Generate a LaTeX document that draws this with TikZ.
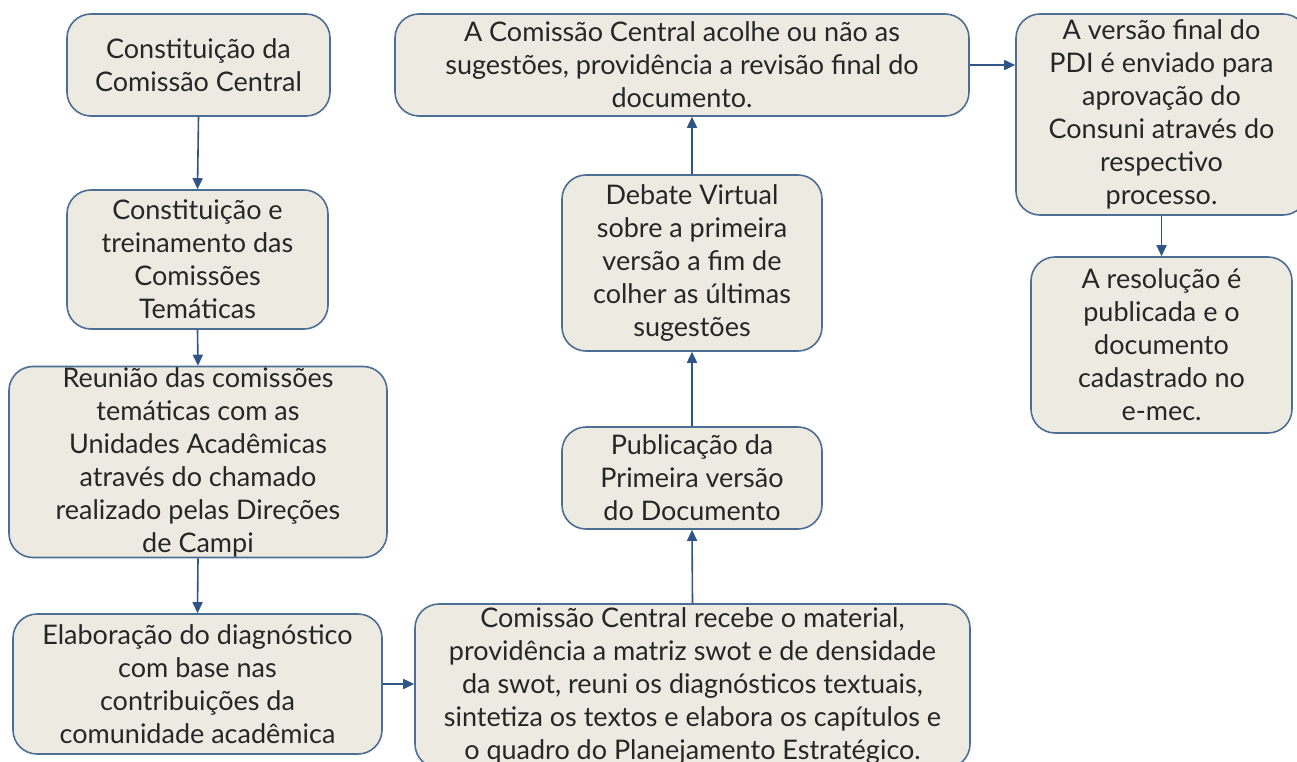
\documentclass[tikz,border=0pt]{standalone}
\usepackage{fontspec}
\setmainfont{Lato}
\usepackage{tikz}
\usetikzlibrary{arrows.meta}

\definecolor{boxfill}{HTML}{EDEBE1}
\definecolor{boxline}{HTML}{4C6E95}
\definecolor{seta}{HTML}{2F5486}

\tikzset{
  etapa/.style={draw=boxline, fill=boxfill, line width=1.6pt, rounded corners=24pt,
    align=center, inner sep=0pt, text=black!85,
    font=\fontsize{27}{33}\selectfont},
  seta/.style={draw=seta, line width=1.6pt, -{Triangle[length=11pt,width=10pt]}}
}

\begin{document}
\begin{tikzpicture}[x=1pt, y=-1pt]
				\useasboundingbox[fill=white] (0,0) rectangle (1297,762);
				%left column
				\node[etapa, minimum width=263pt, minimum height=102pt] (constCentral) at (198.5,65) {Constituição da\\Comissão Central};
				\node[etapa, minimum width=261pt, minimum height=139pt] (constTemat) at (197.5,259.5) {Constituição e\\treinamento das\\Comissões\\Temáticas};
				\node[etapa, minimum width=378pt, minimum height=191pt] (reuniao) at (198,462) {Reunião das comissões\\temáticas com as\\Unidades Acadêmicas\\através do chamado\\realizado pelas Direções\\de Campi};
				\node[etapa, minimum width=369pt, minimum height=140pt] (elab) at (197.5,684) {Elaboração do diagnóstico\\com base nas\\contribuições da\\comunidade acadêmica};
				%middle column
				\node[etapa, minimum width=555pt, minimum height=164pt] (recebe) at (692.5,686) {Comissão Central recebe o material,\\providência a matriz swot e de densidade\\da swot, reuni os diagnósticos textuais,\\sintetiza os textos e elabora os capítulos e\\o quadro do Planejamento Estratégico.};
				\node[etapa, minimum width=260pt, minimum height=102pt] (publica) at (692,478) {Publicação da\\Primeira versão\\do Documento};
				\node[etapa, minimum width=260pt, minimum height=176pt] (debate) at (692,263) {Debate Virtual\\sobre a primeira\\versão a fim de\\colher as últimas\\sugestões};
				\node[etapa, minimum width=574pt, minimum height=102pt] (acolhe) at (682,65) {A Comissão Central acolhe ou não as\\sugestões, providência a revisão final do\\documento.};
				%right column
				\node[etapa, minimum width=291pt, minimum height=201pt] (versaoFinal) at (1161.5,114.5) {A versão final do\\PDI é enviado para\\aprovação do\\Consuni através do\\respectivo\\processo.};
				\node[etapa, minimum width=261pt, minimum height=176pt] (resolucao) at (1161.5,345) {A resolução é\\publicada e o\\documento\\cadastrado no\\e-mec.};
				%connectors
				\draw[seta] (constCentral.south) -- (constTemat.north);
				\draw[seta] (constTemat.south) -- (reuniao.north);
				\draw[seta] (reuniao.south) -- (elab.north);
				\draw[seta] (elab.east) -- (elab.east -| recebe.west);
				\draw[seta] (recebe.north) -- (publica.south);
				\draw[seta] (publica.north) -- (debate.south);
				\draw[seta] (debate.north) -- (debate.north |- acolhe.south);
				\draw[seta] (acolhe.east) -- (acolhe.east -| versaoFinal.west);
				\draw[seta] (versaoFinal.south) -- (resolucao.north);
			\end{tikzpicture}
\end{document}
